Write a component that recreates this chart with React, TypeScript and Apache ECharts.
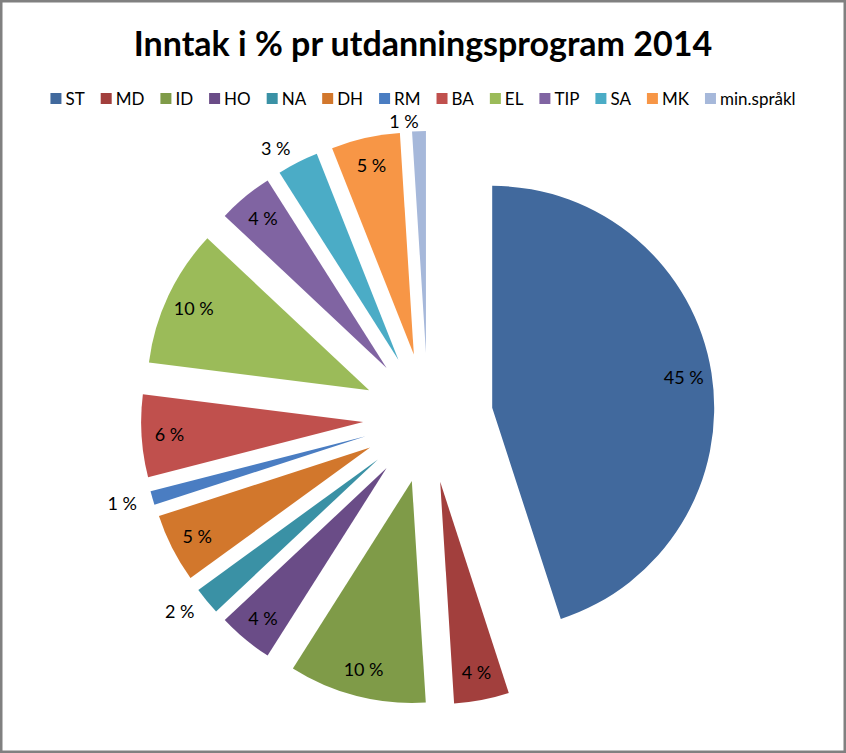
import React, { useEffect, useRef } from "react";
import * as echarts from "echarts";

const categories = ["ST", "MD", "ID", "HO", "NA", "DH", "RM", "BA", "EL", "TIP", "SA", "MK", "min.språkl"];
const values = [45, 4, 10, 4, 2, 5, 1, 6, 10, 4, 3, 5, 1];
const colors = ["#41699D", "#A23F3D", "#7F9B48", "#6A4C87", "#3A91A5", "#D2772C", "#4A7DC2", "#C0504D", "#9BBB59", "#8064A2", "#4BACC6", "#F79646", "#A6B8DA"];
const outsideLabels = ["NA", "RM", "SA", "min.språkl"];

const FONT = "Lato, 'Open Sans', sans-serif";

export default function App() {
  const ref = useRef<HTMLDivElement>(null);
  useEffect(() => {
    if (!ref.current) return;
    const chart = echarts.init(ref.current, null, { renderer: "svg" });
    const center = [428, 418];
    const R = 222;
    const offset = 65;
    const pieData = categories.map((c, i) => ({
      name: c,
      value: values[i],
      selected: true,
      itemStyle: { color: colors[i] },
    }));
    const labelData = categories.map((c, i) => ({
      name: c,
      value: values[i],
      selected: true,
      itemStyle: { color: "rgba(0,0,0,0)" },
      label: outsideLabels.includes(c)
        ? c === "min.språkl"
          ? { position: "outside", align: "center" }
          : { position: "outside" }
        : { position: "inside" },
      labelLine: c === "min.språkl" ? { length: 10, length2: 0 } : undefined,
    }));
    chart.setOption({
      animation: false,
      backgroundColor: "#ffffff",
      title: {
        text: "Inntak i % pr utdanningsprogram 2014",
        left: "center",
        top: 20,
        textStyle: { fontFamily: FONT, fontSize: 34, fontWeight: "bold", color: "#000" },
      },
      legend: {
        top: 85,
        left: "center",
        icon: "rect",
        itemWidth: 11,
        itemHeight: 11,
        itemGap: 16,
        selectedMode: false,
        data: categories,
        textStyle: { fontFamily: FONT, fontSize: 17, color: "#000", padding: [0, 0, 0, -1] },
      },
      graphic: [
        {
          type: "rect",
          shape: { x: 0, y: 0, width: 846, height: 753 },
          style: { fill: "none", stroke: "#808080", lineWidth: 5 },
          silent: true,
        },
      ],
      series: [
        {
          type: "pie",
          center,
          radius: [0, R],
          startAngle: 90,
          clockwise: true,
          selectedMode: "multiple",
          selectedOffset: offset,
          avoidLabelOverlap: false,
          label: { show: false },
          labelLine: { show: false },
          emphasis: { disabled: true },
          data: pieData,
        },
        {
          type: "pie",
          center,
          radius: [160, R],
          startAngle: 90,
          clockwise: true,
          selectedMode: "multiple",
          selectedOffset: offset,
          avoidLabelOverlap: false,
          silent: true,
          legendHoverLink: false,
          label: {
            show: true,
            fontFamily: FONT,
            fontSize: 18,
            color: "#000",
            formatter: (p: any) => p.value + " %",
            distanceToLabelLine: 0,
          },
          labelLine: { show: false, length: 16, length2: 0 },
          emphasis: { disabled: true },
          data: labelData,
        },
      ],
    });
    return () => chart.dispose();
  }, []);
  return <div ref={ref} style={{ position: "fixed", left: 0, top: 0, width: 846, height: 753 }} />;
}
